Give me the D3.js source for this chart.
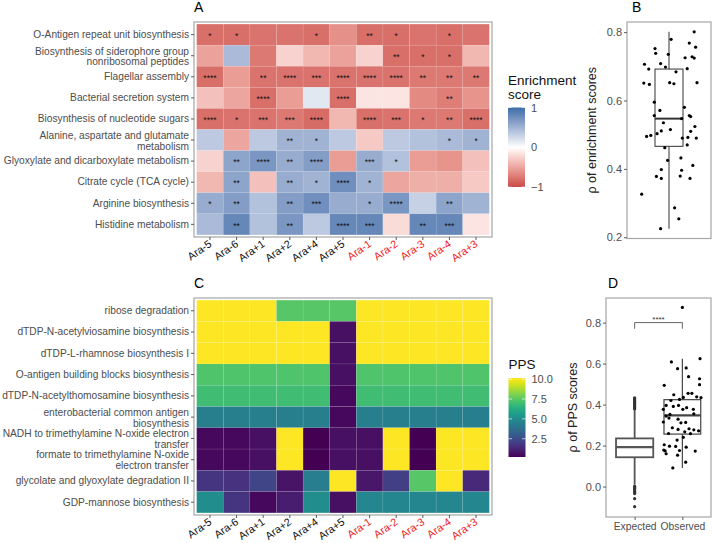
<!DOCTYPE html>
<html><head><meta charset="utf-8">
<script src="https://cdn.jsdelivr.net/npm/d3@7"></script>
<style>
body{margin:0;background:#fff;}
svg{font-family:"Liberation Sans",Arial,sans-serif;}
</style></head>
<body><svg id="c" width="712" height="543"></svg>
<script>
// ---------- DATA ----------
const strains = ["Ara-5","Ara-6","Ara+1","Ara+2","Ara+4","Ara+5","Ara-1","Ara-2","Ara-3","Ara-4","Ara+3"];
const redStrains = ["Ara-1","Ara-2","Ara-3","Ara-4","Ara+3"];

const pathwaysA = [
  "O-Antigen repeat unit biosynthesis",
  "Biosynthesis of siderophore group\nnonribosomal peptides",
  "Flagellar assembly",
  "Bacterial secretion system",
  "Biosynthesis of nucleotide sugars",
  "Alanine, aspartate and glutamate\nmetabolism",
  "Glyoxylate and dicarboxylate metabolism",
  "Citrate cycle (TCA cycle)",
  "Arginine biosynthesis",
  "Histidine metabolism"
];
const enrichment = [
  [-0.80,-0.80,-0.78,-0.78,-0.80,-0.62,-0.80,-0.80,-0.78,-0.80,-0.78],
  [-0.52, 0.45,-0.75,-0.25,-0.40,-0.52,-0.25,-0.80,-0.80,-0.80,-0.40],
  [-0.80,-0.55,-0.78,-0.78,-0.78,-0.78,-0.78,-0.78,-0.75,-0.75,-0.75],
  [-0.35,-0.50,-0.80,-0.55, 0.15,-0.80,-0.15,-0.15,-0.65,-0.72,-0.60],
  [-0.80,-0.78,-0.78,-0.75,-0.82,-0.40,-0.80,-0.78,-0.75,-0.75,-0.80],
  [ 0.35,-0.50, 0.35, 0.50, 0.50, 0.35,-0.30, 0.35, 0.40, 0.45, 0.50],
  [-0.25, 0.60, 0.70, 0.55, 0.65,-0.55, 0.55, 0.40,-0.55,-0.60,-0.35],
  [-0.40, 0.60,-0.35, 0.55, 0.50, 0.75, 0.50,-0.50,-0.45,-0.45,-0.30],
  [ 0.55, 0.65, 0.40, 0.65, 0.75, 0.55, 0.55, 0.70, 0.30, 0.60, 0.50],
  [ 0.45, 0.80, 0.40, 0.70, 0.35, 0.80, 0.80,-0.20, 0.80, 0.80,-0.15]
];
const stars = [
  ["*","*","","","*","","**","*","","*",""],
  ["","","","","","","","**","*","*",""],
  ["****","","**","****","***","****","****","****","**","**","**"],
  ["","","****","","","****","","","","**",""],
  ["****","*","***","***","****","","****","***","*","**","****"],
  ["","","","**","*","","","","","*","*"],
  ["","**","****","**","****","","***","*","","",""],
  ["","**","","**","*","****","*","","","",""],
  ["*","**","","**","***","","*","****","","**",""],
  ["","**","","**","","****","***","","**","***",""]
];

const pathwaysC = [
  "ribose degradation",
  "dTDP-N-acetylviosamine biosynthesis",
  "dTDP-L-rhamnose biosynthesis I",
  "O-antigen building blocks biosynthesis",
  "dTDP-N-acetylthomosamine biosynthesis",
  "enterobacterial common antigen\nbiosynthesis",
  "NADH to trimethylamine N-oxide electron\ntransfer",
  "formate to trimethylamine N-oxide\nelectron transfer",
  "glycolate and glyoxylate degradation II",
  "GDP-mannose biosynthesis"
];
const pps = [
  [10,10,10,7.4,7.4,7.4,10,10,10,10,10],
  [10,10,10,10,10,0.6,10,10,10,10,10],
  [10,10,10,10,10,0.6,10,10,10,10,10],
  [7.3,7.3,7.3,7.3,7.3,0.6,7.3,7.3,7.3,7.3,7.3],
  [7.0,7.0,7.0,7.0,7.0,0.4,7.0,7.0,7.0,7.0,7.0],
  [4.4,4.4,4.4,4.4,4.4,0.4,4.4,4.4,4.4,4.4,4.4],
  [0.4,0.4,0.6,10,0.2,0.6,0.6,10,0.2,10,10],
  [0.4,0.4,0.6,10,0.2,0.6,0.6,10,0.2,10,10],
  [1.7,1.6,2.2,0.7,4.3,10,0.8,2.0,7.4,10,1.3],
  [5.0,1.7,0.4,1.0,5.0,0.6,4.7,4.7,4.7,4.7,4.7]
];

// Panel B: correlation of enrichment scores
const rhoEnrich = [0.801,0.779,0.768,0.756,0.752,0.738,0.735,0.728,0.724,0.725,0.706,0.708,0.692,0.693,0.698,0.684,
  0.652,0.651,0.647,0.652,0.649,0.595,0.571,0.580,0.556,0.556,0.553,0.547,0.535,0.524,0.510,0.515,0.511,0.503,0.495,
  0.498,0.490,0.492,0.490,0.470,0.462,0.425,0.432,0.410,0.398,0.396,0.378,0.379,0.372,0.372,0.326,0.286,0.254,0.225];
const jitterEnrich = [0.36,0.03,0.29,0.38,-0.20,-0.19,-0.01,0.33,0.36,0.23,-0.35,-0.12,-0.29,0.26,-0.05,0.10,
  0.40,-0.36,-0.28,0.01,0.07,-0.21,-0.13,0.22,-0.21,0.29,0.31,0.18,-0.08,0.37,0.31,0.02,-0.11,-0.17,-0.32,
  -0.26,0.19,0.27,0.39,0.26,-0.06,-0.02,0.17,0.34,-0.11,0.18,-0.18,0.16,-0.11,0.30,-0.39,0.08,0.14,-0.12];
const boxEnrich = [0.225,0.466,0.547,0.692,0.801]; // lower whisker, Q1, median, Q3, upper whisker

// Panel D: correlation of PPS scores
const groupsD = ["Expected","Observed"];
const boxExpected = [0.010,0.143,0.192,0.235,0.372];
const outliersExpected = [0.378,0.383,0.388,0.393,0.398,0.403,0.408,0.413,0.418,0.423,0.428,0.433,
  0.002,-0.004,-0.010,-0.016,-0.022,-0.028,-0.034,-0.059,-0.098];
const boxObserved = [0.091,0.256,0.347,0.424,0.624];
const rhoObserved = [0.874,0.624,0.608,0.575,0.579,0.536,0.526,0.497,0.494,0.448,0.435,0.455,0.455,0.438,0.434,0.425,
  0.420,0.396,0.396,0.391,0.377,0.385,0.377,0.377,0.355,0.352,0.344,0.334,0.329,0.311,0.315,0.313,0.287,0.279,
  0.282,0.277,0.272,0.267,0.258,0.259,0.240,0.227,0.204,0.197,0.196,0.192,0.178,0.160,0.176,0.153,0.174,0.173,0.119,0.091];
const jitterObserved = [0.0,0.37,-0.23,-0.10,0.08,0.13,0.36,0.36,-0.38,-0.18,0.02,0.12,0.20,0.30,0.39,-0.06,
  -0.24,-0.34,-0.08,-0.19,-0.40,0.09,0.01,0.23,0.24,-0.26,-0.34,-0.28,-0.09,-0.03,-0.40,0.07,-0.21,-0.09,
  0.14,0.24,0.34,0.05,0.17,-0.29,0.02,-0.11,-0.38,-0.27,-0.14,0.08,-0.39,-0.34,-0.06,-0.10,-0.36,0.27,0.07,-0.20];

const ticksB = [0.2,0.4,0.6,0.8];
const ticksD = [0.0,0.2,0.4,0.6,0.8];
const legendA = [-1,0,1];
const legendC = [2.5,5.0,7.5,10.0];

// ---------- DRAW ----------
const svg = d3.select("#c");
const txtGray = "#4d4d4d";
const borderCol = "#a6a6a6";

function multiline(sel){
  sel.each(function(){
    const t = d3.select(this);
    const lines = t.text().split("\n");
    if(lines.length<2) return;
    t.text(null);
    const lh = 10.8;
    lines.forEach((l,i)=>{
      t.append("tspan").attr("x",t.attr("x")).attr("dy", i===0 ? (-(lines.length-1)/2*lh+4.2)+"px" : lh+"px").text(l);
    });
    t.attr("dy",null);
  });
}

function styleAxis(g){
  g.select(".domain").remove();
  g.selectAll(".tick line").attr("stroke","#333").attr("stroke-width",0.8);
  g.selectAll(".tick text").attr("fill",txtGray).attr("font-size","10.2px");
}

function heatmap(opt){
  const {x0,x1,y0,y1,rows,vals,color,starData,letter} = opt;
  const x = d3.scaleBand().domain(strains).range([x0,x1]).paddingInner(0).paddingOuter(0.1);
  const y = d3.scaleBand().domain(rows).range([y0,y1]).paddingInner(0).paddingOuter(0.1);
  const g = svg.append("g");
  rows.forEach((r,i)=>{
    strains.forEach((s,j)=>{
      g.append("rect").attr("x",x(s)).attr("y",y(r)).attr("width",x.bandwidth()).attr("height",y.bandwidth())
        .attr("fill",color(vals[i][j])).attr("stroke","#fff").attr("stroke-opacity",0.15).attr("stroke-width",0.5);
      if(starData && starData[i][j]){
        g.append("text").attr("x",x(s)+x.bandwidth()/2).attr("y",y(r)+y.bandwidth()/2+4.2)
          .attr("text-anchor","middle").attr("font-size","8.5px").attr("fill","#111").text(starData[i][j]);
      }
    });
  });
  svg.append("rect").attr("x",x0).attr("y",y0).attr("width",x1-x0).attr("height",y1-y0)
    .attr("fill","none").attr("stroke",borderCol).attr("stroke-width",1.2);
  const ay = svg.append("g").attr("transform",`translate(${x0},0)`)
    .call(d3.axisLeft(y).tickSize(3).tickPadding(2));
  styleAxis(ay);
  ay.selectAll(".tick text").call(multiline);
  const ax = svg.append("g").attr("transform",`translate(0,${y1})`)
    .call(d3.axisBottom(x).tickSize(3).tickPadding(2));
  styleAxis(ax);
  ax.selectAll(".tick text")
    .attr("text-anchor","end").attr("dy",null).attr("y",null)
    .attr("transform","translate(2.5,8.5) rotate(-35)")
    .attr("fill",d=> redStrains.includes(d) ? "#ee1c1c" : "#111")
    .attr("font-size","10.8px");
  svg.append("text").attr("x",x0).attr("y",y0-10).attr("font-size","14px").attr("fill","#000").text(letter);
}

// Panel A
const colA = d3.scaleLinear().domain([-1,0,1]).range(["#c94848","#ffffff","#3a6da8"]).interpolate(d3.interpolateLab);
heatmap({x0:194,x1:492,y0:22,y1:237,rows:pathwaysA,vals:enrichment,color:colA,starData:stars,letter:"A"});

// Panel C
const colC = d3.scaleSequential(d3.interpolateViridis).domain([0.2,10]);
heatmap({x0:194,x1:492,y0:298,y1:515,rows:pathwaysC,vals:pps,color:colC,starData:null,letter:"C"});

// Legends
function legend(opt){
  const {x,y0,y1,domain,ticks,title,fmt,gid,interp} = opt;
  const defs = svg.append("defs");
  const grad = defs.append("linearGradient").attr("id",gid).attr("x1",0).attr("x2",0).attr("y1",1).attr("y2",0);
  d3.range(0,1.0001,0.05).forEach(t=>{
    grad.append("stop").attr("offset",t).attr("stop-color",interp(domain[0]+t*(domain[1]-domain[0])));
  });
  const ls = d3.scaleLinear().domain(domain).range([y1,y0]);
  svg.append("rect").attr("x",x).attr("y",y0).attr("width",17).attr("height",y1-y0).attr("fill",`url(#${gid})`);
  const g = svg.append("g");
  ticks.forEach(t=>{
    g.append("line").attr("x1",x).attr("x2",x+3.5).attr("y1",ls(t)).attr("y2",ls(t)).attr("stroke","#fff").attr("stroke-width",0.8).attr("opacity",0.8);
    g.append("line").attr("x1",x+13.5).attr("x2",x+17).attr("y1",ls(t)).attr("y2",ls(t)).attr("stroke","#fff").attr("stroke-width",0.8).attr("opacity",0.8);
    g.append("text").attr("x",x+23).attr("y",ls(t)+4).attr("font-size","11px").attr("fill",txtGray).text(fmt(t));
  });
  title.forEach((l,i)=> svg.append("text").attr("x",x).attr("y",opt.ty+i*14).attr("font-size","13.5px").attr("fill","#111").text(l));
}
legend({x:508,y0:107.5,y1:187,domain:[-1,1],ticks:legendA,title:["Enrichment","score"],ty:85,fmt:d3.format("d"),gid:"gA",interp:colA});
legend({x:508.5,y0:378,y1:457,domain:[0.2,10.15],ticks:legendC,title:["PPS"],ty:369,fmt:d3.format(".1f"),gid:"gC",interp:colC});

// Panel B
(function(){
  const x0=627,x1=711,y0=22,y1=238.5;
  const x = d3.scaleLinear().domain([0.4,1.6]).range([x0,x1]);
  const y = d3.scaleLinear().domain([0.1964,0.8296]).range([y1,y0]);
  const g = svg.append("g");
  const cx = x(1), hw = (x(1.2)-x(0.8))/2;
  const [lo,q1,md,q3,hi] = boxEnrich;
  g.append("line").attr("x1",cx).attr("x2",cx).attr("y1",y(hi)).attr("y2",y(q3)).attr("stroke","#333").attr("stroke-width",1);
  g.append("line").attr("x1",cx).attr("x2",cx).attr("y1",y(q1)).attr("y2",y(lo)).attr("stroke","#333").attr("stroke-width",1);
  g.append("rect").attr("x",cx-hw).attr("y",y(q3)).attr("width",2*hw).attr("height",y(q1)-y(q3)).attr("fill","#fff").attr("stroke","#333").attr("stroke-width",1);
  g.append("line").attr("x1",cx-hw).attr("x2",cx+hw).attr("y1",y(md)).attr("y2",y(md)).attr("stroke","#333").attr("stroke-width",2);
  rhoEnrich.forEach((v,i)=>{
    g.append("circle").attr("cx",x(1+jitterEnrich[i])).attr("cy",y(v)).attr("r",1.6).attr("fill","#000");
  });
  svg.append("rect").attr("x",x0).attr("y",y0).attr("width",x1-x0).attr("height",y1-y0).attr("fill","none").attr("stroke",borderCol).attr("stroke-width",1.2);
  const ay = svg.append("g").attr("transform",`translate(${x0},0)`).call(d3.axisLeft(y).tickValues(ticksB).tickFormat(d3.format(".1f")).tickSize(3).tickPadding(2));
  styleAxis(ay);
  ay.selectAll(".tick text").attr("font-size","11px");
  svg.append("text").attr("transform",`translate(${596},${(y0+y1)/2}) rotate(-90)`).attr("text-anchor","middle").attr("font-size","12.5px").attr("fill","#222").text("ρ of enrichment scores");
  svg.append("text").attr("x",x0+5).attr("y",y0-10).attr("font-size","14px").attr("fill","#000").text("B");
})();

// Panel D
(function(){
  const x0=606,x1=711,y0=298,y1=517;
  const x = d3.scalePoint().domain(groupsD).range([x0+(x1-x0)*0.6/2.2,x1-(x1-x0)*0.6/2.2]);
  const u = (x("Observed")-x("Expected"));
  const y = d3.scaleLinear().domain([-0.1485,0.92]).range([y1,y0]);
  const g = svg.append("g");
  function box(cx,stats,hw,sw,col){
    const [lo,q1,md,q3,hi] = stats;
    g.append("line").attr("x1",cx).attr("x2",cx).attr("y1",y(hi)).attr("y2",y(q3)).attr("stroke",col).attr("stroke-width",sw);
    g.append("line").attr("x1",cx).attr("x2",cx).attr("y1",y(q1)).attr("y2",y(lo)).attr("stroke",col).attr("stroke-width",sw);
    g.append("rect").attr("x",cx-hw).attr("y",y(q3)).attr("width",2*hw).attr("height",y(q1)-y(q3)).attr("fill","#fff").attr("stroke",col).attr("stroke-width",sw);
    g.append("line").attr("x1",cx-hw).attr("x2",cx+hw).attr("y1",y(md)).attr("y2",y(md)).attr("stroke",col).attr("stroke-width",2.2);
  }
  const cxE = x("Expected"), cxO = x("Observed");
  box(cxE,boxExpected,0.39*u,1.8,"#555");
  outliersExpected.forEach(v=> g.append("circle").attr("cx",cxE).attr("cy",y(v)).attr("r",1.6).attr("fill","#333"));
  box(cxO,boxObserved,0.385*u,1.2,"#444");
  rhoObserved.forEach((v,i)=> g.append("circle").attr("cx",cxO+jitterObserved[i]*u).attr("cy",y(v)).attr("r",1.6).attr("fill","#000"));
  // significance bracket
  const yb = y(0.80), yt = y(0.77);
  g.append("path").attr("d",`M${cxE},${yt}V${yb}H${cxO}V${yt}`).attr("fill","none").attr("stroke","#555").attr("stroke-width",0.9);
  g.append("text").attr("x",(cxE+cxO)/2).attr("y",yb-0.5).attr("text-anchor","middle").attr("font-size","8px").attr("fill","#333").text("****");
  svg.append("rect").attr("x",x0).attr("y",y0).attr("width",x1-x0).attr("height",y1-y0).attr("fill","none").attr("stroke",borderCol).attr("stroke-width",1.2);
  const ay = svg.append("g").attr("transform",`translate(${x0},0)`).call(d3.axisLeft(y).tickValues(ticksD).tickFormat(d3.format(".1f")).tickSize(3).tickPadding(2));
  styleAxis(ay);
  ay.selectAll(".tick text").attr("font-size","11px");
  const ax = svg.append("g").attr("transform",`translate(0,${y1})`).call(d3.axisBottom(x).tickSize(3).tickPadding(3));
  styleAxis(ax);
  ax.selectAll(".tick text").attr("font-size","10.3px");
  svg.append("text").attr("transform",`translate(${577},${(y0+y1)/2}) rotate(-90)`).attr("text-anchor","middle").attr("font-size","12.5px").attr("fill","#222").text("ρ of PPS scores");
  svg.append("text").attr("x",x0+2).attr("y",y0-10).attr("font-size","14px").attr("fill","#000").text("D");
})();
</script></body></html>
